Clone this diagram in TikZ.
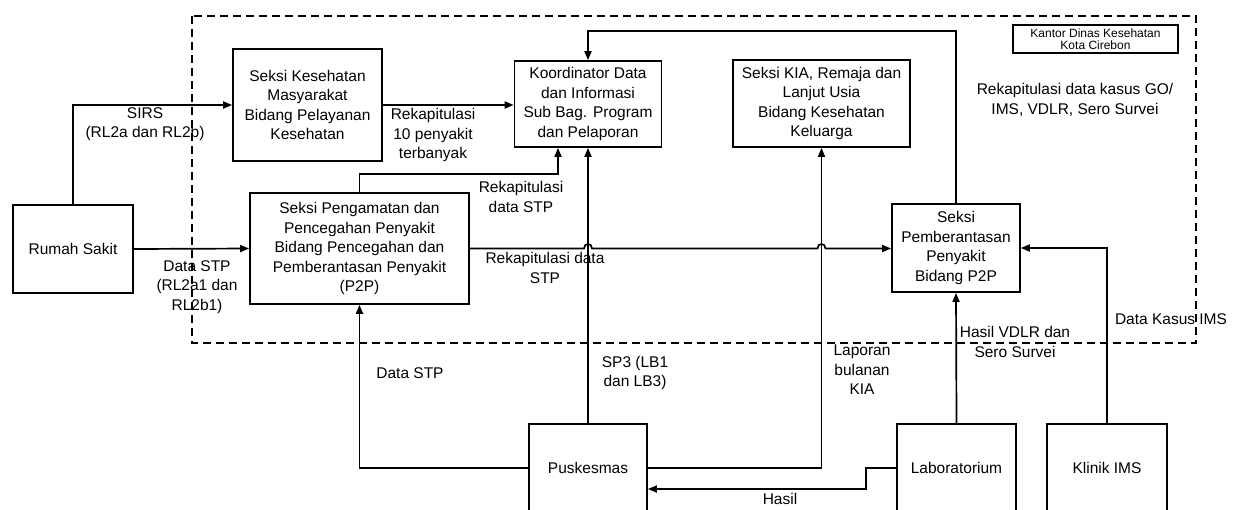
\documentclass[tikz,border=0pt]{standalone}
\usepackage{fontspec}
\setmainfont{Liberation Sans}
\usetikzlibrary{arrows.meta}
\begin{document}
\begin{tikzpicture}[x=1pt,y=-1pt,
  box/.style={draw, line width=1.7pt, align=center, inner sep=2pt,
    font=\fontsize{15.5}{19.5}\selectfont},
  conn/.style={line width=1.7pt, -{Triangle[length=9pt,width=7pt]}},
  lbl/.style={align=center, inner sep=0pt, font=\fontsize{15.5}{19.5}\selectfont}]
\useasboundingbox (0,0) rectangle (1233,509);
\fill[white] (0,0) rectangle (1233,509);
% dashed office boundary
\draw[line width=1.4pt, dash pattern=on 8pt off 5pt] (192,16) rectangle (1196,343);
\node[draw, line width=1.2pt, minimum width=165pt, minimum height=28pt, inner sep=0pt, align=center,
  font=\fontsize{12}{12.5}\selectfont] (kantor) at (1095.5,39) {Kantor Dinas Kesehatan\\Kota Cirebon};
% boxes
\node[box, minimum width=120pt, minimum height=88pt] (rs) at (73,249) {Rumah Sakit};
\node[box, minimum width=149pt, minimum height=112pt] (kesmas) at (307.5,105)
  {Seksi Kesehatan\\Masyarakat\\Bidang Pelayanan\\Kesehatan};
\node[box, minimum width=219pt, minimum height=111pt] (p2p) at (359.5,248.5)
  {Seksi Pengamatan dan\\Pencegahan Penyakit\\Bidang Pencegahan dan\\Pemberantasan Penyakit\\(P2P)};
\node[box, minimum width=147pt, minimum height=86pt] (koord) at (588,104)
  {Koordinator Data\\dan Informasi\\Sub Bag. Program\\dan Pelaporan};
\node[box, minimum width=177pt, minimum height=87pt] (kia) at (821.5,103.5)
  {Seksi KIA, Remaja dan\\Lanjut Usia\\Bidang Kesehatan\\Keluarga};
\node[box, minimum width=128pt, minimum height=88pt] (pemb) at (956,248)
  {Seksi\\Pemberantasan\\Penyakit\\Bidang P2P};
\node[box, minimum width=118pt, minimum height=88pt] (pusk) at (588,468) {Puskesmas};
\node[box, minimum width=119pt, minimum height=88pt] (lab) at (956.5,468) {Laboratorium};
\node[box, minimum width=120pt, minimum height=88pt] (klinik) at (1107,468) {Klinik IMS};
% hop points
\coordinate (h1) at (koord.south |- p2p.east);
\coordinate (h2) at (kia.south |- p2p.east);
% connectors
\draw[conn] (rs.north) |- (kesmas.west);
\draw[conn] (rs.east) -- (p2p.west);
\draw[conn] (kesmas.east) -- (kesmas.east -| koord.west);
\draw[conn] (p2p.north) |- ([xshift=-30pt,yshift=-26pt]koord.south) -- ([xshift=-30pt]koord.south);
\draw[conn] (pusk.north) -- (koord.south);
\draw[conn] (p2p.east) -- ([xshift=-4pt]h1)
  .. controls ([xshift=-4pt,yshift=6pt]h1) and ([xshift=4pt,yshift=6pt]h1) .. ([xshift=4pt]h1)
  -- ([xshift=-4pt]h2)
  .. controls ([xshift=-4pt,yshift=6pt]h2) and ([xshift=4pt,yshift=6pt]h2) .. ([xshift=4pt]h2)
  -- (p2p.east -| pemb.west);
\draw[conn] (pusk.east) -| (kia.south);
\draw[conn] (pemb.north) |- ([yshift=29pt]koord.north) -- (koord.north);
\draw[conn] (klinik.north) |- (pemb.east);
\draw[conn] (lab.north) -- (pemb.south);
\draw[conn] (lab.west) -- ++(-30,0) |- ([yshift=-21pt]pusk.east);
\draw[conn] (pusk.west) -| (p2p.south);
% labels
\node[lbl] (l1) at (145,124) {SIRS\\(RL2a dan RL2b)};
\node[lbl] (l2) at (197,287) {Data STP\\(RL2a1 dan\\RL2b1)};
\node[lbl] (l3) at (433,135) {Rekapitulasi\\10 penyakit\\terbanyak};
\node[lbl] (l4) at (521,197) {Rekapitulasi\\data STP};
\node[lbl] (l5) at (545,268) {Rekapitulasi data\\STP};
\node[lbl] (l6) at (1075,100) {Rekapitulasi data kasus GO/\\IMS, VDLR, Sero Survei};
\node[lbl] (l7) at (862,370) {Laporan\\bulanan\\KIA};
\node[lbl] (l8) at (1015,342) {Hasil VDLR dan\\Sero Survei};
\node[lbl] (l9) at (1171,319) {Data Kasus IMS};
\node[lbl] (l10) at (635,373) {SP3 (LB1\\dan LB3)};
\node[lbl] (l11) at (410,373) {Data STP};
\node[lbl] (l12) at (780,499) {Hasil};
\end{tikzpicture}
\end{document}
